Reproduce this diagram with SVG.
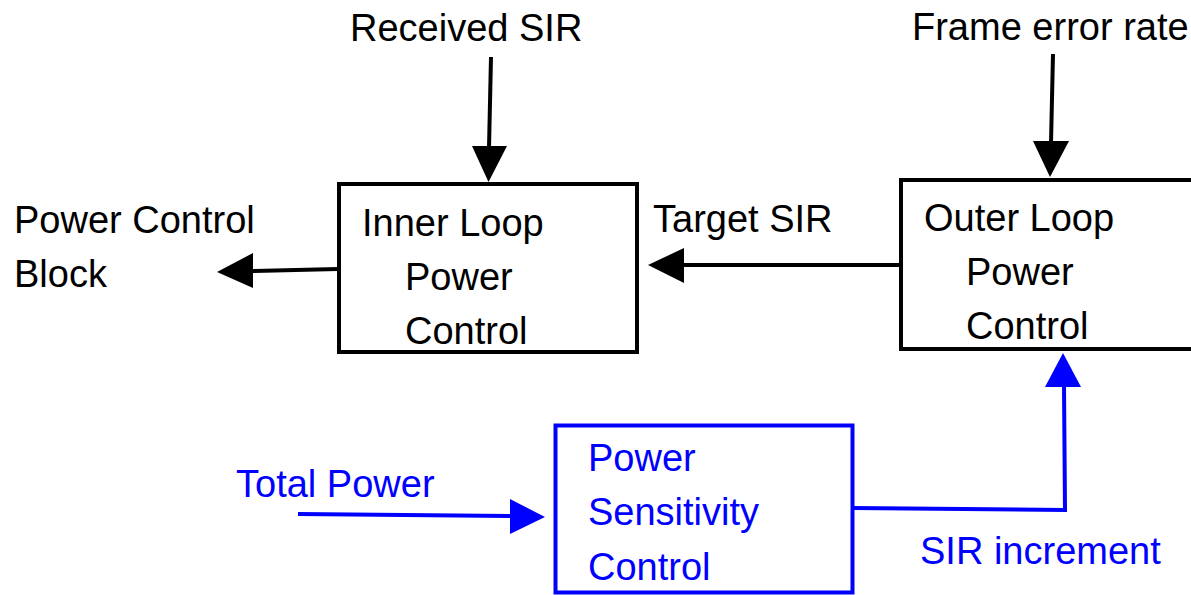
<svg xmlns="http://www.w3.org/2000/svg" width="1191" height="595" viewBox="0 0 1191 595">
  <style>
    text { font-family: "Liberation Sans", Arial, sans-serif; font-size: 38px; }
    .k { fill: #000; }
    .b { fill: #0000ff; }
    .boxk { fill: #fff; stroke: #000; stroke-width: 4; }
    .boxb { fill: #fff; stroke: #0000ff; stroke-width: 4; }
    .lk { fill: none; stroke: #000; stroke-width: 4; }
    .lb { fill: none; stroke: #0000ff; stroke-width: 4; }
    .hk { fill: #000; }
    .hb { fill: #0000ff; }
  </style>
  <rect width="1191" height="595" fill="#fff"/>

  <!-- free labels -->
  <g id="labels">
    <text class="k" x="350" y="41">Received SIR</text>
    <text class="k" x="912" y="40">Frame error rate</text>
    <text class="k" x="14" y="233">Power Control</text>
    <text class="k" x="14" y="287">Block</text>
    <text class="k" x="653" y="232">Target SIR</text>
    <text class="b" x="236" y="497">Total Power</text>
    <text class="b" x="920" y="564">SIR increment</text>
  </g>

  <!-- connectors -->
  <g id="connectors">
    <line class="lk" x1="491" y1="57" x2="489" y2="148"/>
    <polygon class="hk" points="472,146 507,146 488.5,182"/>
    <line class="lk" x1="1053" y1="54" x2="1051" y2="143"/>
    <polygon class="hk" points="1033,141 1069,141 1050,177"/>
    <line class="lk" x1="338" y1="269" x2="251" y2="271"/>
    <polygon class="hk" points="253,253 253,288 217,272"/>
    <line class="lk" x1="899" y1="265" x2="682" y2="265"/>
    <polygon class="hk" points="684,248 684,283 648,265"/>
    <line class="lb" x1="298" y1="514" x2="512" y2="516"/>
    <polygon class="hb" points="510,499 510,534 545,517"/>
    <polyline class="lb" points="853,508 1065,510 1064,385"/>
    <polygon class="hb" points="1045,387 1081,387 1063,353"/>
  </g>

  <g id="inner-loop">
    <rect class="boxk" x="339" y="184" width="298" height="168"/>
    <text class="k" x="362" y="236">Inner Loop</text>
    <text class="k" x="405" y="290">Power</text>
    <text class="k" x="405" y="344">Control</text>
  </g>

  <g id="outer-loop">
    <rect class="boxk" x="901" y="180" width="320" height="169"/>
    <text class="k" x="924" y="231">Outer Loop</text>
    <text class="k" x="966" y="285">Power</text>
    <text class="k" x="966" y="339">Control</text>
  </g>

  <g id="power-sensitivity">
    <rect class="boxb" x="555.5" y="425.5" width="297" height="167"/>
    <text class="b" x="588" y="471">Power</text>
    <text class="b" x="588" y="525">Sensitivity</text>
    <text class="b" x="588" y="580">Control</text>
  </g>
</svg>
